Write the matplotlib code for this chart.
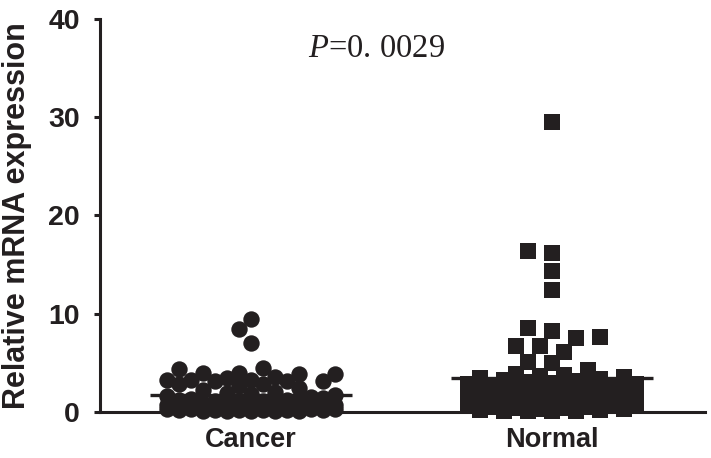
import numpy as np
import matplotlib
matplotlib.use("Agg")
import matplotlib.pyplot as plt

# ---- data ----
categories = ["Cancer", "Normal"]
cancer_values = [9.5, 8.4, 7.0,
                 4.5, 4.4,
                 4.0, 4.0, 3.9, 3.9,
                 3.6, 3.5,
                 3.3, 3.3, 3.3, 3.2, 3.2, 3.2,
                 2.9, 2.8, 2.6, 2.4, 2.2, 2.0, 1.9, 1.8, 1.7, 1.6,
                 1.5, 1.4, 1.3, 1.2, 1.1, 1.0, 1.0, 0.9, 0.9, 0.8,
                 0.8, 0.7, 0.7, 0.6, 0.6, 0.6, 0.5, 0.5, 0.5, 0.4,
                 0.4, 0.4, 0.3, 0.3, 0.3, 0.3, 0.2, 0.2, 0.2, 0.2,
                 0.2, 0.1, 0.1, 0.1, 0.1, 0.15, 0.25, 0.35, 0.45, 0.55,
                 1.25, 1.15, 0.75]
normal_values = [29.5, 16.4, 16.2, 14.35, 12.4, 8.6, 8.2, 7.6, 7.5, 6.75,
                 6.7, 6.1, 5.1, 5.0, 4.3,
                 3.9, 3.8, 3.7, 3.6, 3.5, 3.4, 3.3, 3.2, 3.1, 3.0,
                 2.9, 2.8, 2.7, 2.6, 2.5, 2.4, 2.3, 2.2, 2.1, 2.0,
                 1.9, 1.8, 1.7, 1.6, 1.5, 1.4, 1.3, 1.2, 1.1, 1.0,
                 0.95, 0.9, 0.85, 0.8, 0.75, 0.7, 0.65, 0.6, 0.55, 0.5,
                 0.45, 0.4, 0.35, 0.3, 0.25, 0.2, 0.15, 0.1, 0.1, 0.1,
                 1.9, 1.7, 1.5, 1.3, 1.1]
y_ticks = [0, 10, 20, 30, 40]
y_label = "Relative mRNA expression"

plt.rcParams['mathtext.fontset'] = 'custom'
plt.rcParams['mathtext.it'] = 'Liberation Serif:italic'
plt.rcParams['mathtext.rm'] = 'Liberation Serif'

W, H = 711, 458
fig = plt.figure(figsize=(W / 100, H / 100), dpi=100)
ax = fig.add_axes([100 / W, 46 / H, 605 / W, 393 / H])
ax.set_xlim(0.498, 2.508)
ax.set_ylim(0, 40)

ink = '#231f20'


def swarm_offsets(values, center, step_px=12.0, d_px=16.0, max_k=7):
    vals = np.asarray(values, float)
    pts = ax.transData.transform(np.column_stack([np.full(len(vals), center), vals]))
    ys = pts[:, 1]
    xpx_per_unit = (ax.transData.transform([[1, 0]]) - ax.transData.transform([[0, 0]]))[0, 0]
    cands = [0] + [s * k for k in range(1, max_k + 1) for s in (-1, 1)]
    placed = []
    offs = np.zeros(len(vals))
    for i in np.argsort(vals, kind='stable'):
        y = ys[i]
        chosen = None
        best_d, best_dx = -1, 0
        for k in cands:
            dx = k * step_px
            md = min((np.hypot(dx - px, y - py) for px, py in placed), default=np.inf)
            if md >= d_px:
                chosen = dx
                break
            if md > best_d:
                best_d, best_dx = md, dx
        if chosen is None:
            chosen = best_dx
        placed.append((chosen, y))
        offs[i] = chosen / xpx_per_unit
    return offs


for pos, vals, mk in [(1, cancer_values, 'o'), (2, normal_values, 's')]:
    offs = swarm_offsets(vals, pos)
    ax.plot(pos + offs, vals, linestyle='none', marker=mk, markersize=11.8,
            color=ink, markeredgewidth=0, clip_on=False, zorder=3)
    m = np.mean(vals)
    ax.hlines(m, pos - 0.336, pos + 0.336, color=ink, lw=2.4, zorder=2)

for s in ['top', 'right']:
    ax.spines[s].set_visible(False)
for s in ['left', 'bottom']:
    ax.spines[s].set_linewidth(2.2)
    ax.spines[s].set_color(ink)

ax.set_yticks(y_ticks)
ax.set_xticks([1, 2])
ax.set_xticklabels(categories)
ax.tick_params(axis='both', direction='out', length=4.5, width=2.2, color=ink,
               labelcolor=ink)
ax.tick_params(axis='y', pad=10)
ax.tick_params(axis='x', pad=6)
for lab in ax.get_yticklabels():
    lab.set_fontfamily('Liberation Sans')
    lab.set_fontweight('bold')
    lab.set_fontsize(20.5)
for lab in ax.get_xticklabels():
    lab.set_fontfamily('Liberation Sans')
    lab.set_fontweight('bold')
    lab.set_fontsize(19.5)

ax.set_ylabel(y_label, fontfamily='Liberation Sans', fontweight='bold',
              fontsize=22, color=ink, va='center')
ax.yaxis.set_label_coords(-0.137, 0.5)

ax.text(1.415, 37.0, r"$P$=0. 0029", fontfamily='Liberation Serif', fontsize=23.5,
        ha='center', va='center', color=ink)

fig.savefig("out.png", dpi=100)
